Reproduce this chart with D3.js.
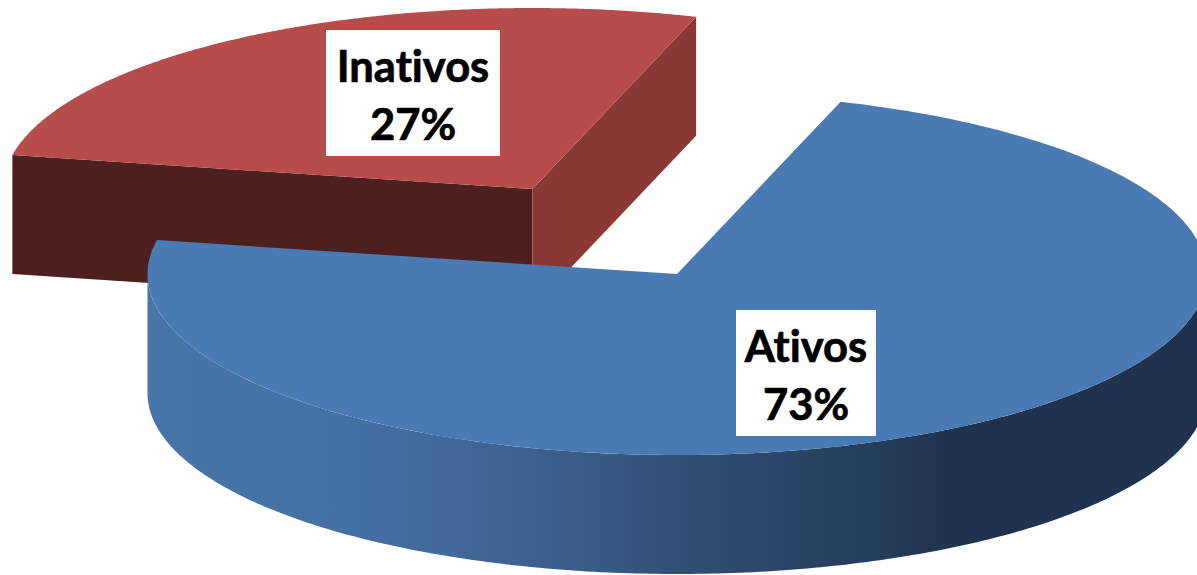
<!DOCTYPE html>
<html><head><meta charset="utf-8">
<script src="https://cdn.jsdelivr.net/npm/d3@7"></script>
<style>html,body{margin:0;padding:0;background:#fff;overflow:hidden}svg{display:block}</style>
</head><body>
<script>
const categories = ["Ativos", "Inativos"];
const shares = [73, 27];
const percentLabels = ["73%", "27%"];
const topColors = ["#4a7ab4", "#b64d4a"];
const width = 1197, height = 575;
const rx = 529.5, ry = 181, depth = 119, startDeg = 18;
const centers = [[677, 274], [532.5, 189]];
const labelBoxes = [[736, 310, 140, 126], [326, 30, 174, 126]];

const svg = d3.select("body").append("svg").attr("width", width).attr("height", height);
const defs = svg.append("defs");
const grad = defs.append("linearGradient").attr("id", "wall").attr("gradientUnits", "userSpaceOnUse")
  .attr("x1", 147).attr("x2", 1197).attr("y1", 0).attr("y2", 0);
[[0, "#4874a9"], [0.19, "#4570a4"], [0.29, "#41699a"], [0.43, "#385a85"], [0.53, "#2f4d72"], [0.67, "#263f5f"], [0.77, "#1f334e"], [1, "#1f334e"]]
  .forEach(([o, c]) => grad.append("stop").attr("offset", o).attr("stop-color", c));

const arcs = d3.pie().sort(null).value(d => d)
  .startAngle(startDeg * Math.PI / 180).endAngle(startDeg * Math.PI / 180 + 2 * Math.PI)(shares);

function projector(c) {
  const x = d3.scaleLinear().domain([-1, 1]).range([c[0] - rx, c[0] + rx]);
  const y = d3.scaleLinear().domain([-1, 1]).range([c[1] + ry, c[1] - ry]);
  return (a, dz = 0, r = 1) => [x(r * Math.sin(a)), y(r * Math.cos(a)) + dz];
}
const rim = (p, a0, a1, dz = 0) => d3.range(0, 241).map(i => p(a0 + (a1 - a0) * i / 240, dz));
const line = d3.line().curve(d3.curveLinear);
const poly = pts => line(pts) + "Z";

// Inativos (back, exploded) slice
const pR = projector(centers[1]), aR = arcs[1];
const apexR = pR(0, 0, 0), apexRb = pR(0, depth, 0);
svg.append("path").attr("fill", "#4e1f1f").attr("d", poly([pR(aR.startAngle), apexR, apexRb, pR(aR.startAngle, depth)]));
svg.append("path").attr("fill", "#893835").attr("d", poly([apexR, pR(aR.endAngle), pR(aR.endAngle, depth), apexRb]));
svg.append("path").attr("fill", topColors[1]).attr("d", poly([apexR, ...rim(pR, aR.startAngle, aR.endAngle)]));

// Ativos (front) slice
const pB = projector(centers[0]), aB = arcs[0];
const wallStart = Math.PI / 2, wallEnd = 3 * Math.PI / 2;
svg.append("path").attr("fill", "url(#wall)")
  .attr("d", poly([...rim(pB, wallStart, wallEnd), ...rim(pB, wallEnd, wallStart, depth)]));
svg.append("path").attr("fill", topColors[0]).attr("d", poly([pB(0, 0, 0), ...rim(pB, aB.startAngle, aB.endAngle)]));

// Labels
categories.forEach((name, i) => {
  const b = labelBoxes[i], cx = b[0] + b[2] / 2;
  svg.append("rect").attr("x", b[0]).attr("y", b[1]).attr("width", b[2]).attr("height", b[3]).attr("fill", "#fff");
  const t = svg.append("text").attr("text-anchor", "middle").attr("font-family", "Lato, 'Open Sans', sans-serif")
    .attr("font-weight", 700).attr("font-size", 43.5).attr("fill", "#000")
    .attr("stroke", "#000").attr("stroke-width", 0.7)
    .style("font-variant-ligatures", "none").style("font-kerning", "normal");
  t.append("tspan").attr("x", cx).attr("y", b[1] + 51.5).text(name);
  t.append("tspan").attr("x", cx).attr("y", b[1] + 109.5).text(percentLabels[i]);
});
</script>
</body></html>
